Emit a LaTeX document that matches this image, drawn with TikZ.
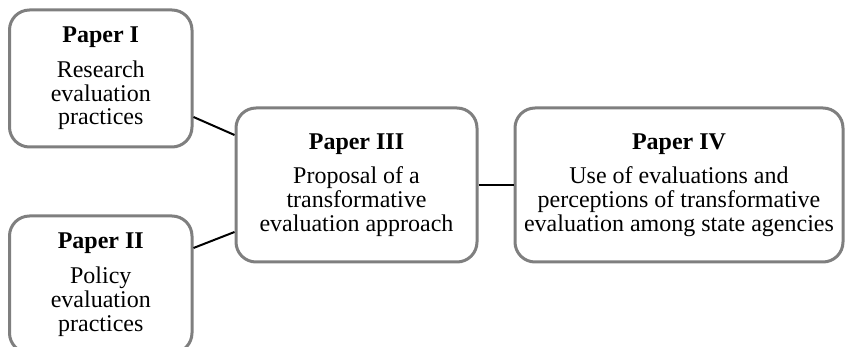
\documentclass[tikz,border=0pt]{standalone}
\usepackage{fontspec}
\setmainfont{Liberation Serif}
\definecolor{boxgray}{HTML}{7F7F7F}
\begin{document}
\begin{tikzpicture}[x=1pt,y=-1pt,
  paper/.style={draw=boxgray, line width=3pt, rounded corners=20pt, align=center, inner sep=0pt,
    font=\fontsize{24}{23.8}\selectfont},
  link/.style={black, line width=2pt}]
\useasboundingbox (0,0) rectangle (847,347);
\clip (0,0) rectangle (847,347);
\node[paper, minimum width=182.5pt, minimum height=137pt] (p1) at (100.75,78.5)
  {\textbf{Paper I}\\[11pt]Research\\evaluation\\practices};
\node[paper, minimum width=182.5pt, minimum height=137pt] (p2) at (100.75,284.5)
  {\textbf{Paper II}\\[11pt]Policy\\evaluation\\practices};
\node[paper, minimum width=241pt, minimum height=154pt] (p3) at (356.5,185)
  {\textbf{Paper III}\\[11pt]Proposal of a\\transformative\\evaluation approach};
\node[paper, minimum width=328pt, minimum height=154pt] (p4) at (679,185)
  {\textbf{Paper IV}\\[11pt]Use of evaluations and\\perceptions of transformative\\evaluation among state agencies};
\draw[link] ([yshift=-38.5pt]p1.east) -- ([yshift=50pt]p3.west);
\draw[link] ([yshift=36.5pt]p2.east) -- ([yshift=-47pt]p3.west);
\draw[link] (p3.east) -- (p4.west);
\end{tikzpicture}
\end{document}
